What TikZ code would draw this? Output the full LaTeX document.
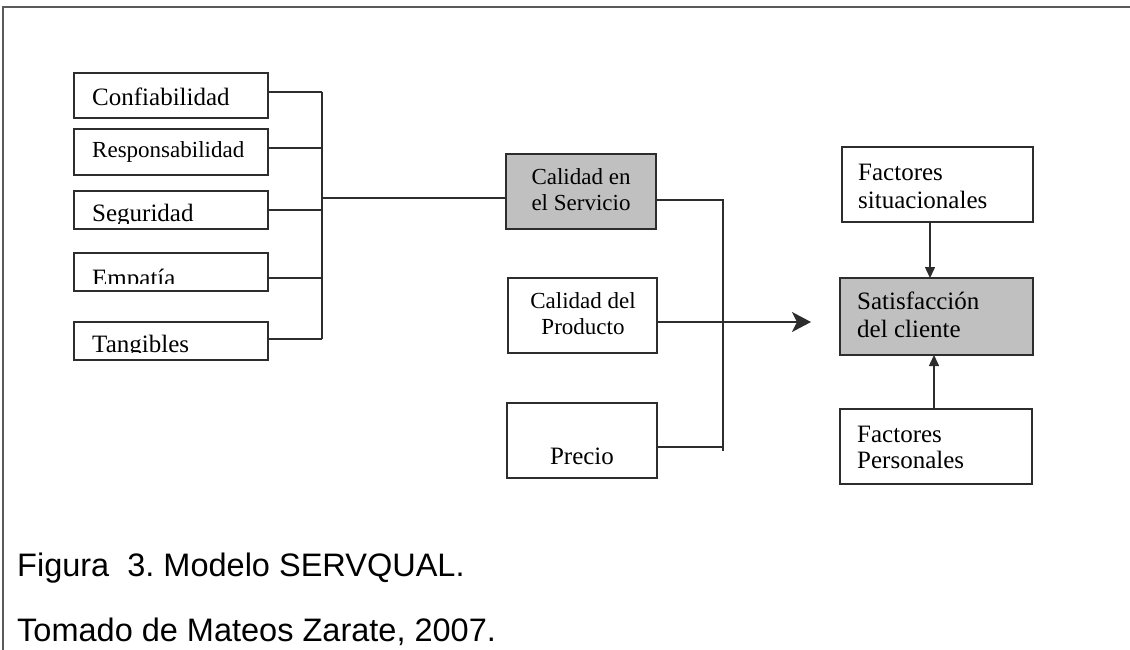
\documentclass[tikz,border=0pt]{standalone}
\usepackage{fontspec}
\setmainfont{Liberation Serif}
\newfontfamily\capfont{Liberation Sans}
\usetikzlibrary{arrows.meta}
\definecolor{boxfill}{RGB}{192,192,192}
\definecolor{linecol}{RGB}{45,45,45}
\definecolor{framecol}{RGB}{90,90,90}
\frenchspacing
\begin{document}
\begin{tikzpicture}[x=1pt,y=-1pt,
  box/.style={draw=linecol, line width=1.6pt, rectangle, inner sep=0pt, outer sep=0pt},
  shaded/.style={box, fill=boxfill},
  lbl/.style={inner sep=0pt, anchor=base west, font=\fontsize{25}{30}\selectfont},
  lblc/.style={inner sep=0pt, anchor=base, font=\fontsize{23}{28}\selectfont},
  wire/.style={draw=linecol, line width=1.5pt},
  bigtip/.style={-{Stealth[length=19pt,width=20pt,inset=5pt]}},
  smalltip/.style={-{Triangle[length=11pt,width=10pt]}},
  captiontext/.style={inner sep=0pt, anchor=base west, font=\capfont\fontsize{32.5}{38}\selectfont}]
\useasboundingbox (0,0) rectangle (1130,650);

% outer frame (top and left rules only)
\draw[framecol, line width=1.2pt] (1130,7) -- (3,7) -- (3,650);

% the five SERVQUAL dimensions
\node[box, minimum width=194pt, minimum height=45pt] (conf) at (171,95.5) {};
\node[box, minimum width=194pt, minimum height=46pt] (resp) at (171,152) {};
\node[box, minimum width=194pt, minimum height=38pt] (seg)  at (171,210) {};
\node[box, minimum width=194pt, minimum height=38pt] (emp)  at (171,272) {};
\node[box, minimum width=194pt, minimum height=38pt] (tang) at (171,341) {};

\node[lbl] (confT) at (92,105.5) {Confiabilidad};
\node[lbl, font=\fontsize{23}{28}\selectfont] (respT) at (92,157.5) {Responsabilidad};
\begin{scope}
  \clip (74,191) rectangle (268,223);
  \node[lbl] (segT) at (92,221.5) {Seguridad};
\end{scope}
\begin{scope}
  \clip (74,253) rectangle (268,283);
  \node[lbl] (empT) at (92,286) {Empatía};
\end{scope}
\begin{scope}
  \clip (74,322) rectangle (268,352);
  \node[lbl] (tangT) at (92,352.5) {Tangibles};
\end{scope}

% middle column
\node[shaded, minimum width=150pt, minimum height=75pt] (cal)  at (581,191.5) {};
\node[box,    minimum width=149pt, minimum height=75pt] (prod) at (582.5,315.5) {};
\node[box,    minimum width=150pt, minimum height=75pt] (pre)  at (582,440.5) {};

\node[lblc] (calT1) at (581,185) {Calidad en};
\node[lblc] (calT2) at (581,211) {el Servicio};
\node[lblc] (prodT1) at (583,308) {Calidad del};
\node[lblc] (prodT2) at (583,334) {Producto};
\node[lblc, font=\fontsize{25}{30}\selectfont] (preT) at (582,464) {Precio};

% right column
\node[box,    minimum width=191pt, minimum height=75pt] (fs)  at (937.5,184.5) {};
\node[shaded, minimum width=193pt, minimum height=77pt] (sat) at (936.5,316.5) {};
\node[box,    minimum width=192pt, minimum height=75pt] (fp)  at (936,446.5) {};

\node[lbl] (fsT1) at (858,180) {Factores};
\node[lbl] (fsT2) at (858,208) {situacionales};
\node[lbl] (satT1) at (857,309) {Satisfacción};
\node[lbl] (satT2) at (857,337.5) {del cliente};
\node[lbl] (fpT1) at (857,442) {Factores};
\node[lbl] (fpT2) at (857,468) {Personales};

% bus joining the dimensions to the service quality box
\coordinate (bus) at (322,198);
\coordinate (cA) at ([yshift=3.5pt]conf.east);
\coordinate (cB) at ([yshift=4pt]resp.east);
\coordinate (cC) at (seg.east);
\coordinate (cD) at ([yshift=-6pt]emp.east);
\coordinate (cE) at ([yshift=2pt]tang.east);
\foreach \c in {cA,cB,cC,cD,cE} \draw[wire] (\c) -- (\c -| bus);
\draw[wire] (cA -| bus) -- (cE -| bus);
\draw[wire] (bus) -- (bus -| cal.west);

% bus joining service quality and price
\coordinate (rbus) at (723,200);
\coordinate (pOut) at ([yshift=-6.5pt]pre.east);
\coordinate (rbusEnd) at (723,451);
\draw[wire] (rbus -| cal.east) -- (rbus) -- (rbusEnd);
\draw[wire] (pOut) -- (pOut -| rbus);

% product quality into satisfaction
\coordinate (tip) at (811,322);
\draw[wire, bigtip] ([yshift=-6.5pt]prod.east) -- (tip);

% situational and personal factors
\draw[wire, smalltip] ([xshift=-7.5pt]fs.south) -- ([xshift=-7.5pt]fs.south |- sat.north);
\draw[wire, smalltip] ([xshift=-2pt]fp.north) -- ([xshift=-2pt]fp.north |- sat.south);

% caption
\node[captiontext] (fig) at (17,576) {Figura~~3. Modelo SERVQUAL.};
\node[captiontext] (src) at (17,641) {Tomado de Mateos Zarate, 2007.};
\end{tikzpicture}
\end{document}
